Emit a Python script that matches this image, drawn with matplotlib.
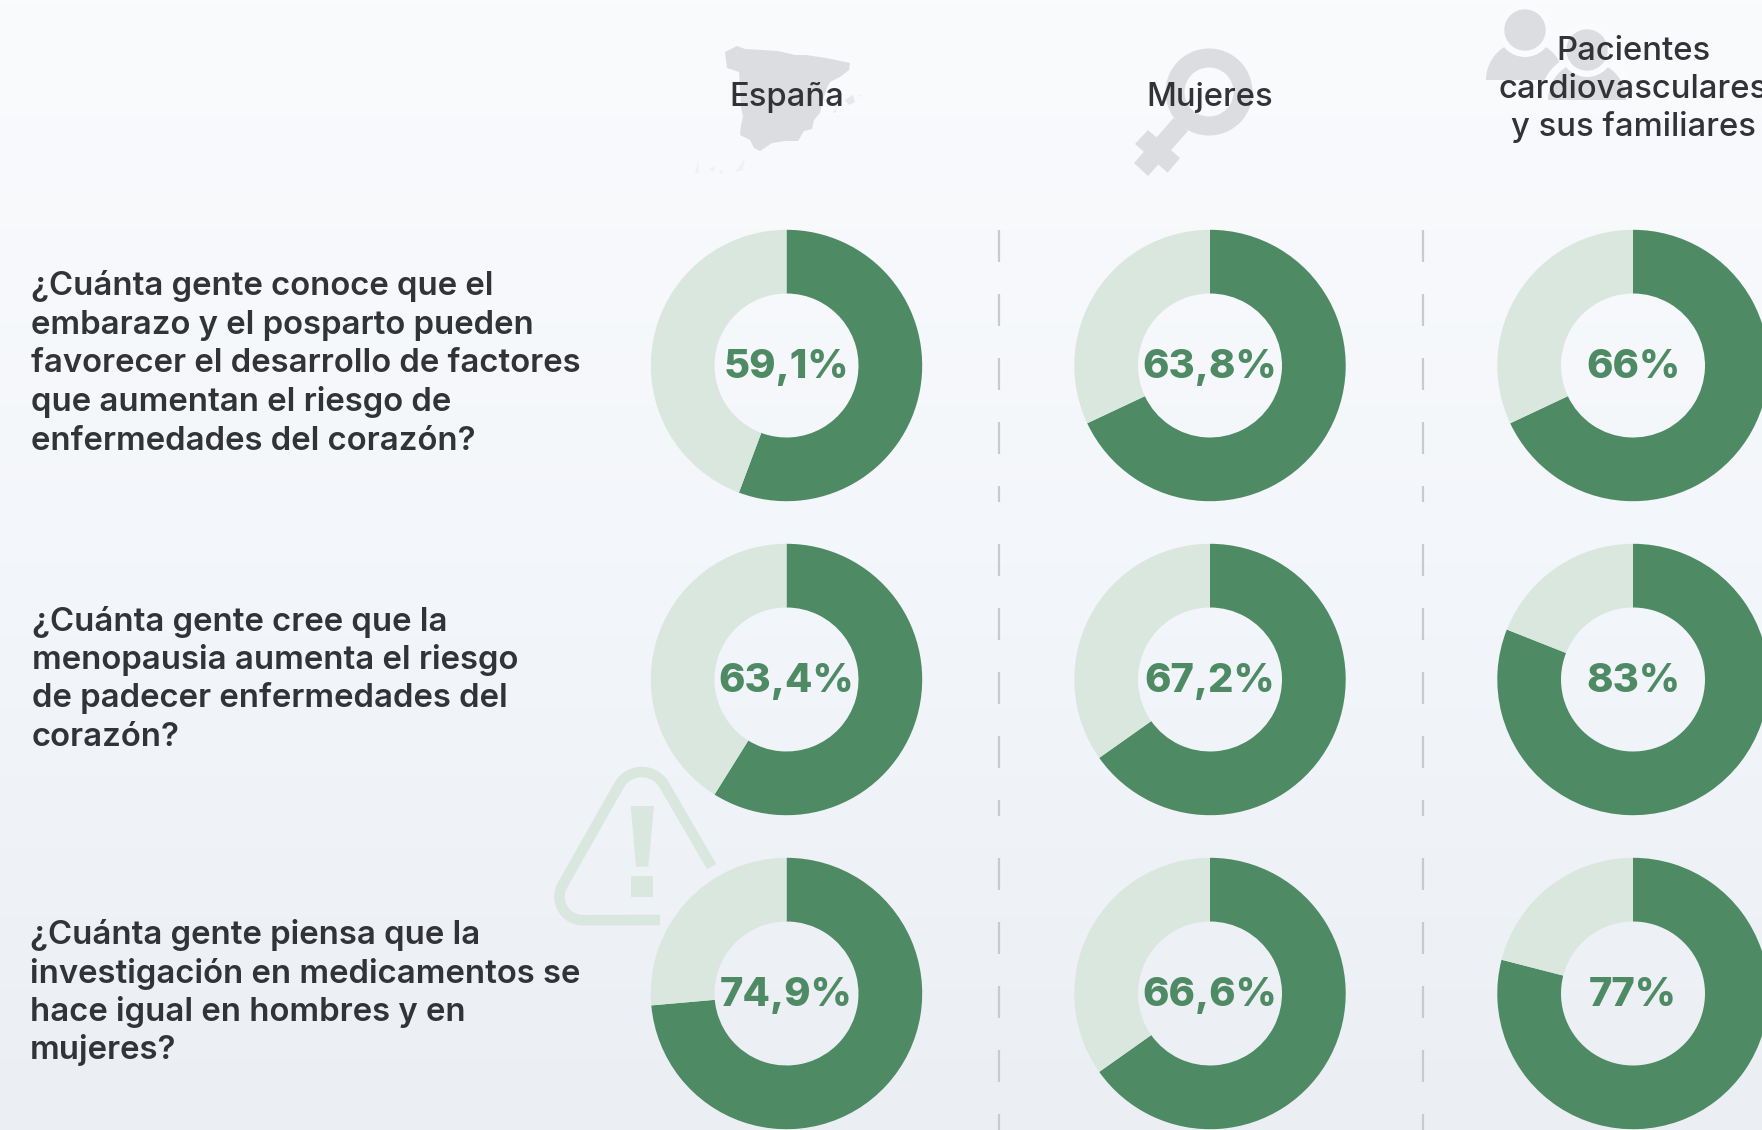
import matplotlib
matplotlib.use('Agg')
import matplotlib.pyplot as plt
from matplotlib.colors import LinearSegmentedColormap
from matplotlib.patches import Polygon, Circle, Wedge, Rectangle
import numpy as np

# printed labels
spain_lab = ['59,1%', '63,4%', '74,9%']
women_lab = ['63,8%', '67,2%', '66,6%']
patients_lab = ['66%', '83%', '77%']
# dark slice share as drawn in the picture (not always the printed number)
spain = [55.7, 58.9, 73.6]
women = [68, 65.2, 65.2]
patients = [68, 81, 79]

headers = [['España'], ['Mujeres'], ['Pacientes', 'cardiovasculares', 'y sus familiares']]
questions = [
    ['¿Cuánta gente conoce que el', 'embarazo y el posparto pueden', 'favorecer el desarrollo de factores',
     'que aumentan el riesgo de', 'enfermedades del corazón?'],
    ['¿Cuánta gente cree que la', 'menopausia aumenta el riesgo', 'de padecer enfermedades del', 'corazón?'],
    ['¿Cuánta gente piensa que la', 'investigación en medicamentos se', 'hace igual en hombres y en', 'mujeres?'],
]

W, H = 1762, 1130
GREEN = '#4e8a64'
LIGHT = '#dae7df'
ICON = '#dcdde0'
HALO = '#fafbfc'
DARK = '#323336'
FONT = ['Inter', 'DejaVu Sans']

col_x = [786.5, 1210, 1633]
row_y = [365.5, 679.5, 993.5]
q_x = [31, 32, 30]
q_base = [295.5, 630.5, 944]
head_base = [[106], [106], [60, 98, 136]]

fig = plt.figure(figsize=(W / 100, H / 100), dpi=100)
ax = fig.add_axes([0, 0, 1, 1])

# background
grad = np.linspace(0, 1, 256).reshape(-1, 1)
cmap = LinearSegmentedColormap.from_list('bg', ['#fafbfd', '#f3f6fa', '#ebeef3'])
ax.imshow(grad, extent=[0, W, H, 0], cmap=cmap, aspect='auto', zorder=0)

# spain icon
spain_map = [(725, 52), (729, 50), (737, 46), (745, 49), (778, 51), (795, 55), (806, 55), (826, 58), (850, 63), (849, 70),
             (840, 77), (830, 82), (826, 90), (822, 104), (820, 113), (814, 120), (812, 129), (804, 131), (798, 141),
             (785, 141), (772, 143), (760, 151), (754, 148), (750, 140), (740, 135), (741, 125), (743, 117),
             (741, 107), (739, 72), (727, 68)]
ax.add_patch(Polygon(spain_map, closed=True, fc=ICON, ec='none', zorder=1))
islands = [[(845, 100), (853, 95), (855, 102), (849, 105)],
           [(859, 94), (863, 97), (860, 96)],
           [(833, 112), (837, 108), (835, 113)],
           [(695, 174), (698, 162), (699, 172)],
           [(709, 170), (715, 165), (714, 172)],
           [(719, 171), (723, 170), (723, 174), (720, 174)],
           [(735, 172), (745, 158), (743, 170)]]
for n, pts in enumerate(islands):
    ax.add_patch(Polygon(pts, closed=True, fc='#e6e7ea' if n < 3 else '#f0f1f3', ec='none', zorder=1))

# female icon
ax.add_patch(Wedge((1209, 92), 43.5, 0, 360, width=19, fc=ICON, ec='none', zorder=1))
ax.add_patch(Polygon([(1173.6, 118), (1188, 131), (1148, 176), (1134, 163)], closed=True, fc=ICON, ec='none', zorder=1))
ax.add_patch(Polygon([(1148, 130), (1135, 144), (1167.6, 172.7), (1180, 158)], closed=True, fc=ICON, ec='none', zorder=1))

# people icon
ax.add_patch(Wedge((1525, 80), 39, 180, 360, fc=ICON, ec='none', zorder=1))
ax.add_patch(Circle((1525, 30), 27, fc=HALO, ec='none', zorder=1))
ax.add_patch(Circle((1525, 30), 20.7, fc=ICON, ec='none', zorder=1))
ax.add_patch(Wedge((1587, 100), 47, 180, 360, fc=HALO, ec='none', zorder=1))
ax.add_patch(Wedge((1587, 100), 39, 180, 360, fc=ICON, ec='none', zorder=1))
ax.add_patch(Circle((1587, 50), 27, fc=HALO, ec='none', zorder=1))
ax.add_patch(Circle((1587, 50), 20.7, fc=ICON, ec='none', zorder=1))

# warning icon
t1 = np.radians(np.linspace(331, 209, 30))
t2 = np.radians(np.linspace(209, 90, 30))
tx = np.concatenate([[711.7], 641.7 + 26 * np.cos(t1), 583 + 23.5 * np.cos(t2), [660]])
ty = np.concatenate([[866.7], 798 + 26 * np.sin(t1), 896.7 + 23.5 * np.sin(t2), [920]])
ax.plot(tx, ty, color=LIGHT, lw=7.6, solid_capstyle='butt', solid_joinstyle='round', zorder=1)
ax.add_patch(Polygon([(630.7, 806), (654, 806), (648.3, 866.7), (636, 866.7)], closed=True, fc=LIGHT, ec='none', zorder=1))
ax.add_patch(Rectangle((631, 876), 22.3, 20.7, fc=LIGHT, ec='none', zorder=1))

# dashed separators, one per row
for x in [999, 1422.5]:
    for cy in row_y:
        ax.plot([x, x], [cy - 136, cy + 136], color='#c9cacd', lw=1.6, dashes=(14.4, 14.4),
                dash_capstyle='butt', zorder=1)

# donuts
shares = [spain, women, patients]
labs = [spain_lab, women_lab, patients_lab]
for i, cx in enumerate(col_x):
    for j, cy in enumerate(row_y):
        v = shares[i][j]
        # y axis is inverted, so the pie runs the other way round
        ax.pie([v, 100 - v], colors=[GREEN, LIGHT], center=(cx, cy), radius=135.7,
               startangle=-90, counterclock=True, frame=True,
               wedgeprops=dict(width=63.7, linewidth=0, zorder=3))
        ax.text(cx, cy + 12.3, labs[i][j], ha='center', va='baseline', fontsize=28.8, fontweight='heavy',
                color=GREEN, family=FONT, zorder=5)

for x, lines, bases in zip(col_x, headers, head_base):
    for s, y in zip(lines, bases):
        ax.text(x, y, s, ha='center', va='baseline', fontsize=23.6, color=DARK, family=FONT,
                fontweight='medium', zorder=6)

for x, y0, lines in zip(q_x, q_base, questions):
    for k, s in enumerate(lines):
        ax.text(x, y0 + 38.5 * k, s, ha='left', va='baseline', fontsize=23.7, color=DARK, family=FONT,
                fontweight='semibold', zorder=6)

ax.set_xlim(0, W)
ax.set_ylim(H, 0)
ax.axis('off')
fig.savefig('out.png', dpi=100)
